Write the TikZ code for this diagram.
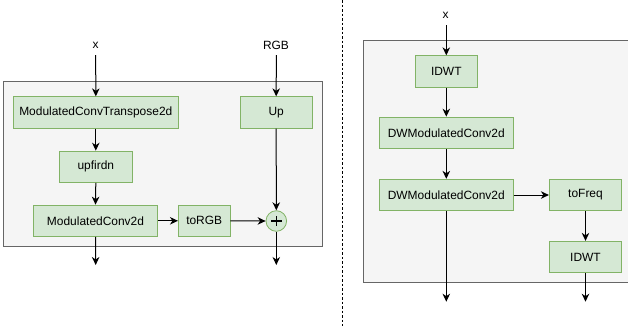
\documentclass[tikz,border=0pt]{standalone}
\usepackage{fontspec}
\setmainfont{Liberation Sans}
\usetikzlibrary{arrows.meta}
\definecolor{boxfill}{HTML}{D5E8D4}
\definecolor{boxline}{HTML}{82B366}
\definecolor{panelfill}{HTML}{F5F5F5}
\definecolor{panelline}{HTML}{666666}
\begin{document}
\begin{tikzpicture}[x=1bp, y=-1bp,
  font=\fontsize{12}{14}\selectfont,
  block/.style={draw=boxline, fill=boxfill, line width=0.8bp, inner sep=0pt,
                minimum height=31.5bp},
  panel/.style={draw=panelline, fill=panelfill, line width=0.8bp},
  flow/.style={-{Stealth[length=8bp, width=7.5bp, inset=2.5bp]}, line width=1bp},
  lbl/.style={inner sep=0pt}]
\useasboundingbox (0,0) rectangle (628,326);

% ---------- left block: upsampling with RGB skip ----------
\draw[panel] (3.3,81.7) rectangle (322.5,246.7);

\node[block, minimum width=165bp]  (mct)   at (95.8,112.5) {ModulatedConvTranspose2d};
\node[block, minimum width=73bp]   (upf)   at (95.8,166.8) {upfirdn};
\node[block, minimum width=124.4bp](mc2)   at (95.5,220.8) {ModulatedConv2d};
\node[block, minimum width=51.7bp] (torgb) at (204.2,220.8) {toRGB};
\node[block, minimum width=72.3bp] (up)    at (276.2,112.5) {Up};
\node[circle, draw=boxline, fill=boxfill, line width=0.8bp, inner sep=0pt,
      minimum size=20.6bp] (sum) at (276.3,221) {};
\draw[line width=1.4bp] ([xshift=-5.2bp]sum.center) -- ([xshift=5.2bp]sum.center)
                        ([yshift=-5.2bp]sum.center) -- ([yshift=5.2bp]sum.center);

\node[lbl] (xa)  at (95.7,45) {x};
\node[lbl] (rgb) at (276,45) {RGB};
\coordinate (xa0)  at (95.7,55);
\coordinate (rgb0) at (276.3,55);
\coordinate (outa) at (95.7,265);
\coordinate (outb) at (276.3,265);

\draw[flow] (xa0) -- (mct.north);
\draw[flow] (mct.south) -- (upf.north);
\draw[flow] (upf.south) -- (mc2.north);
\draw[flow] (mc2.east) -- (torgb.west);
\draw[flow] (torgb.east) -- (sum.west);
\draw[flow] (rgb0) -- (up.north);
\draw[flow] (up.south) -- (sum.north);
\draw[flow] (mc2.south) -- (outa);
\draw[flow] (sum.south) -- (outb);

% ---------- separator ----------
\coordinate (sept) at (342.7,0);
\coordinate (sepb) at (342.7,326);
\draw[line width=0.8bp, dash pattern=on 2.5bp off 2bp] (sept) -- (sepb);

% ---------- right block: wavelet path ----------
\draw[panel] (363.3,40) rectangle (632,282.7);

\node[block, minimum width=62bp]   (idwa) at (446.3,71.5)  {IDWT};
\node[block, minimum width=134bp]  (dwa)  at (446.3,132.8) {DWModulatedConv2d};
\node[block, minimum width=134bp]  (dwb)  at (446.3,195)   {DWModulatedConv2d};
\node[block, minimum width=72.4bp] (tof)  at (585.5,195)   {toFreq};
\node[block, minimum width=72.4bp] (idwb) at (585.5,257)   {IDWT};

\node[lbl] (xb) at (445.7,15) {x};
\coordinate (xb0)  at (446.3,25);
\coordinate (outc) at (446.3,301.7);
\coordinate (outd) at (585.5,301.7);

\draw[flow] (xb0) -- (idwa.north);
\draw[flow] (idwa.south) -- (dwa.north);
\draw[flow] (dwa.south) -- (dwb.north);
\draw[flow] (dwb.east) -- (tof.west);
\draw[flow] (tof.south) -- (idwb.north);
\draw[flow] (dwb.south) -- (outc);
\draw[flow] (idwb.south) -- (outd);
\end{tikzpicture}
\end{document}
